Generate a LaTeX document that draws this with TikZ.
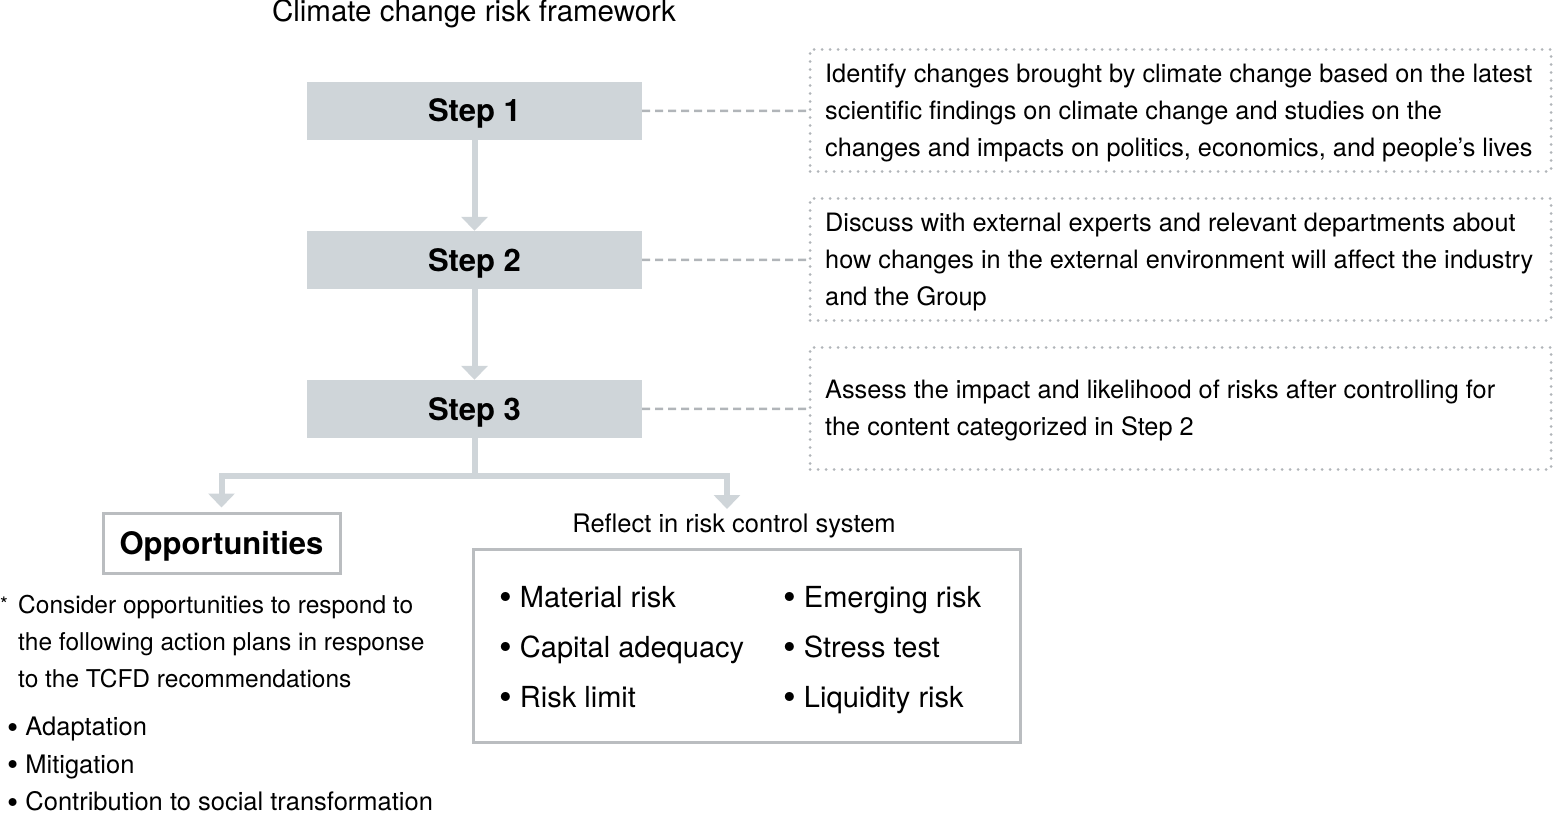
\documentclass[tikz,border=0pt]{standalone}
\usepackage{fontspec}
\setmainfont{TeX Gyre Heros}
\usetikzlibrary{arrows.meta}
\definecolor{stepgray}{HTML}{CFD5D9}
\definecolor{linegray}{HTML}{B1B5B9}
\definecolor{framegray}{HTML}{BABDC0}
\newcommand{\bul}{\raisebox{-0.1em}{\scalebox{1.25}{•}}\ }
\begin{document}
\begin{tikzpicture}[x=1pt,y=-1pt]
	\tikzset{>={Triangle[width=26pt,length=14pt]}}
	\tikzset{stepbox/.style={fill=stepgray, inner sep=0pt, minimum width=335pt, minimum height=58pt, text height=22pt, text depth=0pt, font=\fontsize{31}{34}\selectfont\bfseries}}
	\tikzset{infobox/.style={draw=linegray, line width=3pt, dash pattern=on 0pt off 8pt, line cap=round, minimum width=741pt, minimum height=122pt}}
	\tikzset{infotext/.style={anchor=west, align=left, inner sep=0pt, font=\fontsize{25.3}{37}\selectfont}}
	\tikzset{framebox/.style={draw=framegray, line width=3pt, inner sep=0pt}}
	\tikzset{flow/.style={draw=stepgray, line width=6pt, color=stepgray}}
	\tikzset{link/.style={draw=linegray, line width=2.5pt, dash pattern=on 8pt off 5pt}}
	\tikzset{item/.style={anchor=base west, inner sep=0pt, font=\fontsize{29}{34}\selectfont}}
	\useasboundingbox (0,0) rectangle (1553,813);
	% title
	\node[anchor=base, inner sep=0pt, font=\fontsize{29.5}{32}\selectfont] (title) at (474,22) {Climate change risk framework};
	% steps
	\node[stepbox] (step1) at (474.5,111) {Step 1};
	\node[stepbox] (step2) at (474.5,260) {Step 2};
	\node[stepbox] (step3) at (474.5,409) {Step 3};
	\draw[flow,->] (step1) -- (step2);
	\draw[flow,->] (step2) -- (step3);
	% descriptions
	\node[infobox] (info1) at (1180.5,110.5) {};
	\node[infobox] (info2) at (1180.5,259.5) {};
	\node[infobox] (info3) at (1180.5,408.5) {};
	\node[infotext] (text1) at (825,113) {Identify changes brought by climate change based on the latest\\scientific findings on climate change and studies on the\\changes and impacts on politics, economics, and people’s lives};
	\node[infotext] (text2) at (825,262) {Discuss with external experts and relevant departments about\\how changes in the external environment will affect the industry\\and the Group};
	\node[infotext] (text3) at (825,410.5) {Assess the impact and likelihood of risks after controlling for\\the content categorized in Step 2};
	\draw[link] (step1) -- (info1);
	\draw[link] (step2) -- (info2);
	\draw[link] (step3) -- (info3);
	% branches
	\node[framebox, minimum width=237pt, minimum height=60pt, text height=22pt, text depth=0pt, font=\fontsize{31}{34}\selectfont\bfseries] (opp) at (221.5,543) {Opportunities};
	\node[anchor=base, inner sep=0pt, font=\fontsize{25.5}{30}\selectfont] (reflect) at (734,532) {Reflect in risk control system};
	\coordinate (ctrl) at (727,509);
	\draw[flow] (step3.south) -- ++(0,38) coordinate (fork);
	\draw[flow,->,shorten >=4pt] (fork) -| (opp.north);
	\draw[flow,->] (fork) -| (ctrl);
	% risk control system
	\node[framebox, minimum width=547pt, minimum height=193pt] (riskbox) at (746.5,645.5) {};
	\node[item] (mat) at (499,607) {\bul Material risk};
	\node[item] (cap) at (499,657) {\bul Capital adequacy};
	\node[item] (lim) at (499,707) {\bul Risk limit};
	\node[item] (emg) at (783,607) {\bul Emerging risk};
	\node[item] (str) at (783,657) {\bul Stress test};
	\node[item] (liq) at (783,707) {\bul Liquidity risk};
	% note on opportunities
	\node[anchor=base west, inner sep=0pt, font=\fontsize{20}{24}\selectfont] (star) at (0,611) {*};
	\node[infotext, font=\fontsize{24.5}{37}\selectfont] (note) at (18,642) {Consider opportunities to respond to\\the following action plans in response\\to the TCFD recommendations};
	\node[infotext, font=\fontsize{25.5}{37.5}\selectfont] (plans) at (7,765) {\bul Adaptation\\\bul Mitigation\\\bul Contribution to social transformation};
\end{tikzpicture}
\end{document}
